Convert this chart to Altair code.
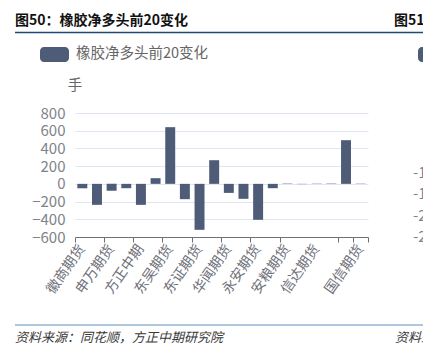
import json
import altair as alt
import pandas as pd

# ---- data ----
categories = ["徽商期货", "中信期货", "申万期货", "国泰君安", "方正中期", "海通期货",
              "东吴期货", "银河期货", "东证期货", "光大期货", "华闻期货", "华泰期货",
              "永安期货", "五矿期货", "安粮期货", "广发期货", "信达期货", "南华期货",
              "中金财富", "国信期货"]
values = [-50, -237, -79, -49, -237, 64, 640, -173, -519, 267, -102, -169,
          -406, -49, 4, -3, 3, 4, 493, 3]
shown_labels = ["徽商期货", "申万期货", "方正中期", "东吴期货", "东证期货",
                "华闻期货", "永安期货", "安粮期货", "信达期货", "国信期货"]
tick_after = ["中信期货", "国泰君安", "海通期货", "银河期货", "光大期货",
              "华泰期货", "五矿期货", "南华期货", "中金财富", "国信期货"]
y_ticks = [-600, -400, -200, 0, 200, 400, 600, 800]
series_name = "橡胶净多头前20变化"
unit = "手"
title_text = "图50：橡胶净多头前20变化"
source_text = "资料来源：同花顺，方正中期研究院"
next_title = "图51"
next_ticks = ["-100", "-150", "-200", "-250"]

FONT = "Noto Sans CJK SC"
BAR = "#4e5c78"
AXIS = "#6e7079"
LABEL = "#80838b"

df = pd.DataFrame({"机构": categories, "变化": values})

shown_js = json.dumps(shown_labels, ensure_ascii=False)
tick_js = json.dumps(tick_after, ensure_ascii=False)

bars = alt.Chart(df).mark_bar(color=BAR, width=alt.RelativeBandSize(0.68)).encode(
    x=alt.X("机构:N", sort=categories,
            scale=alt.Scale(paddingInner=0, paddingOuter=0),
            axis=alt.Axis(title=None, values=categories, grid=False,
                          labelExpr=f"indexof({shown_js}, datum.value) >= 0 ? datum.value : ''",
                          labelAngle=-55, labelAlign="right", labelBaseline="middle",
                          labelFontSize=14, labelColor=AXIS, labelFont=FONT,
                          labelPadding=4, labelOverlap=False,
                          bandPosition=1, tickExtra=True, tickSize=5, tickColor=AXIS,
                          tickOpacity={"condition": {"test": f"!isValid(datum.value) || indexof({tick_js}, datum.value) >= 0",
                                                     "value": 1}, "value": 0},
                          domainColor=AXIS, zindex=1)),
    y=alt.Y("变化:Q", scale=alt.Scale(domain=[-600, 800], nice=False),
            axis=alt.Axis(title=None, values=y_ticks, grid=True, gridColor="#e0e6f1",
                          domain=False, ticks=False, labelFontSize=15, labelColor=LABEL,
                          labelPadding=10, labelFont=FONT)),
)

one = alt.Data(values=[{"k": 1}])


def txt(s, x, y, size, color, align="left", weight="normal", style="normal"):
    return alt.Chart(one).mark_text(text=s, align=align, baseline="middle", fontSize=size,
                                    color=color, font=FONT, fontWeight=weight,
                                    fontStyle=style).encode(x=alt.value(x), y=alt.value(y))


def rule(x1, x2, y, color, w):
    return alt.Chart(one).mark_rule(color=color, strokeWidth=w).encode(
        x=alt.value(x1), x2=alt.value(x2), y=alt.value(y))


def rect(x1, x2, y1, y2, color):
    return alt.Chart(one).mark_rect(color=color, cornerRadius=4).encode(
        x=alt.value(x1), x2=alt.value(x2), y=alt.value(y1), y2=alt.value(y2))


layers = [
    bars,
    txt(title_text, -60, -92, 14, "#111111", weight="bold"),
    rule(-60, 348, -80.5, "#1f4a78", 1.5),
    rect(-35, -6, -66, -51, BAR),
    txt(series_name, 1, -59, 14.5, "#666666"),
    txt(unit, 0, -27, 14.5, "#666666", align="center"),
    rule(-60, 348, 212, "#5b90bd", 1),
    txt(source_text, -60, 225, 13, "#3a3a3a", style="italic"),
    txt(next_title, 319, -92, 14, "#111111", weight="bold"),
    rect(343, 373, -66, -51, BAR),
    txt(source_text, 320, 225, 13, "#3a3a3a", style="italic"),
]
for i, t in enumerate(next_ticks):
    layers.append(txt(t, 338, 60 + i * 21.3, 15, LABEL))

chart = alt.layer(*layers).properties(
    width=293, height=124,
    padding={"left": 75, "top": 113, "right": 55, "bottom": 116},
    autosize=alt.AutoSizeParams(type="none"),
    background="white",
).configure_view(stroke=None)

chart.save("out.html", embed_options={"renderer": "svg", "actions": False})
